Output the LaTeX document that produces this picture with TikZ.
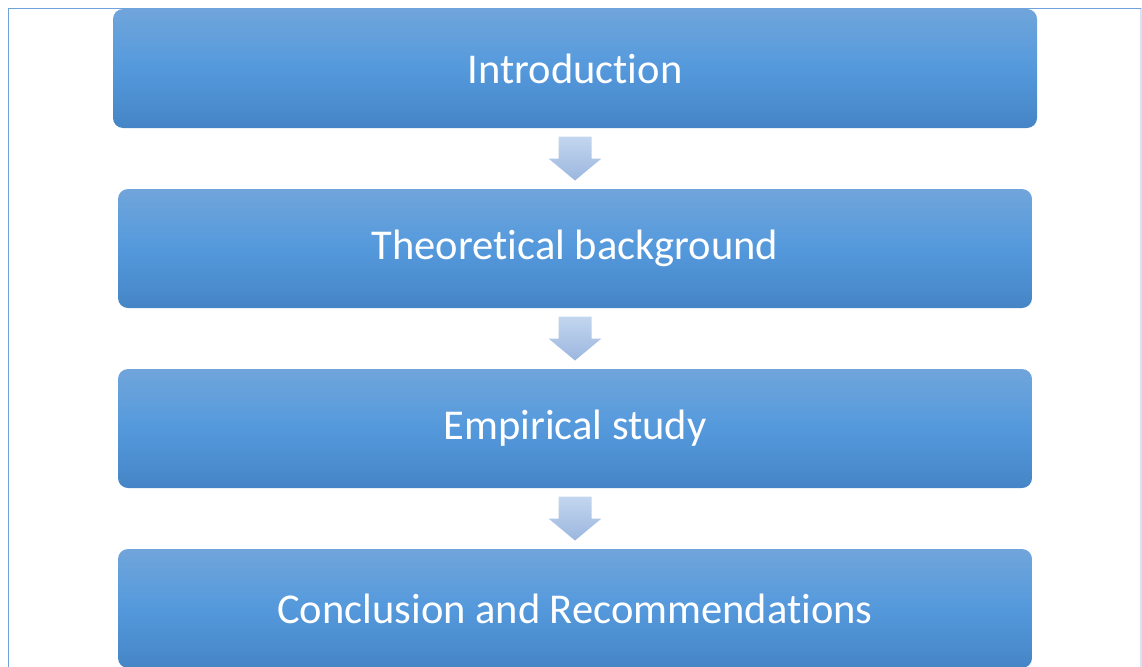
\documentclass[tikz,border=0pt]{standalone}
\usepackage{fontspec}
\setmainfont{Carlito}[RawFeature={-liga;-clig;-dlig;-calt;-rlig}]
\usetikzlibrary{calc}
\newcommand{\nolig}{\kern0pt{}}
\definecolor{boxtop}{HTML}{70A5DB}
\definecolor{boxmid}{HTML}{5499DC}
\definecolor{boxbot}{HTML}{4585C6}
\definecolor{arrtop}{HTML}{C3D6EF}
\definecolor{arrbot}{HTML}{9BB6DE}
\definecolor{framecol}{HTML}{6FA3DC}
\definecolor{framelight}{HTML}{D5E3F4}
\tikzset{
  stagebox/.style={rectangle, rounded corners=10pt, minimum height=119pt,
    top color=boxtop, bottom color=boxbot, middle color=boxmid,
    text=white, font=\fontsize{42.5}{50}\selectfont, inner sep=0pt},
  arrowfill/.style={top color=arrtop, bottom color=arrbot, draw=none}
}
\newcommand{\flowarrow}[2]{%
  \coordinate (m#1) at ($(#1.south)!0.5!(#2.north)$);
  \path[arrowfill] ([xshift=-16.5pt,yshift=22pt]m#1) -- ([xshift=16.5pt,yshift=22pt]m#1)
    -- ([xshift=16.5pt]m#1) -- ([xshift=26.5pt]m#1) -- ([yshift=-22pt]m#1)
    -- ([xshift=-26.5pt]m#1) -- ([xshift=-16.5pt]m#1) -- cycle;}
\begin{document}
\begin{tikzpicture}[x=1pt,y=1pt]
\useasboundingbox (0,0) rectangle (1142,-666);
\clip (0,0) rectangle (1142,-666);
\draw[framelight, line width=1.2pt] (1141,-8.5) -- (1141,-670);
\draw[framecol, line width=1.5pt] (8.5,-670) -- (8.5,-8.5) -- (1141,-8.5);
\node[stagebox, minimum width=924pt] (intro) at (575,-68.5) {Introduct\nolig ion};
\node[stagebox, minimum width=914pt] (theory) at (575,-248.5) {Theoretical background};
\node[stagebox, minimum width=914pt] (empir) at (575,-428.5) {Empirical study};
\node[stagebox, minimum width=914pt] (concl) at (575,-608.5) {Conclusion and Recommendat\nolig ions};
\flowarrow{intro}{theory}
\flowarrow{theory}{empir}
\flowarrow{empir}{concl}
\end{tikzpicture}
\end{document}
